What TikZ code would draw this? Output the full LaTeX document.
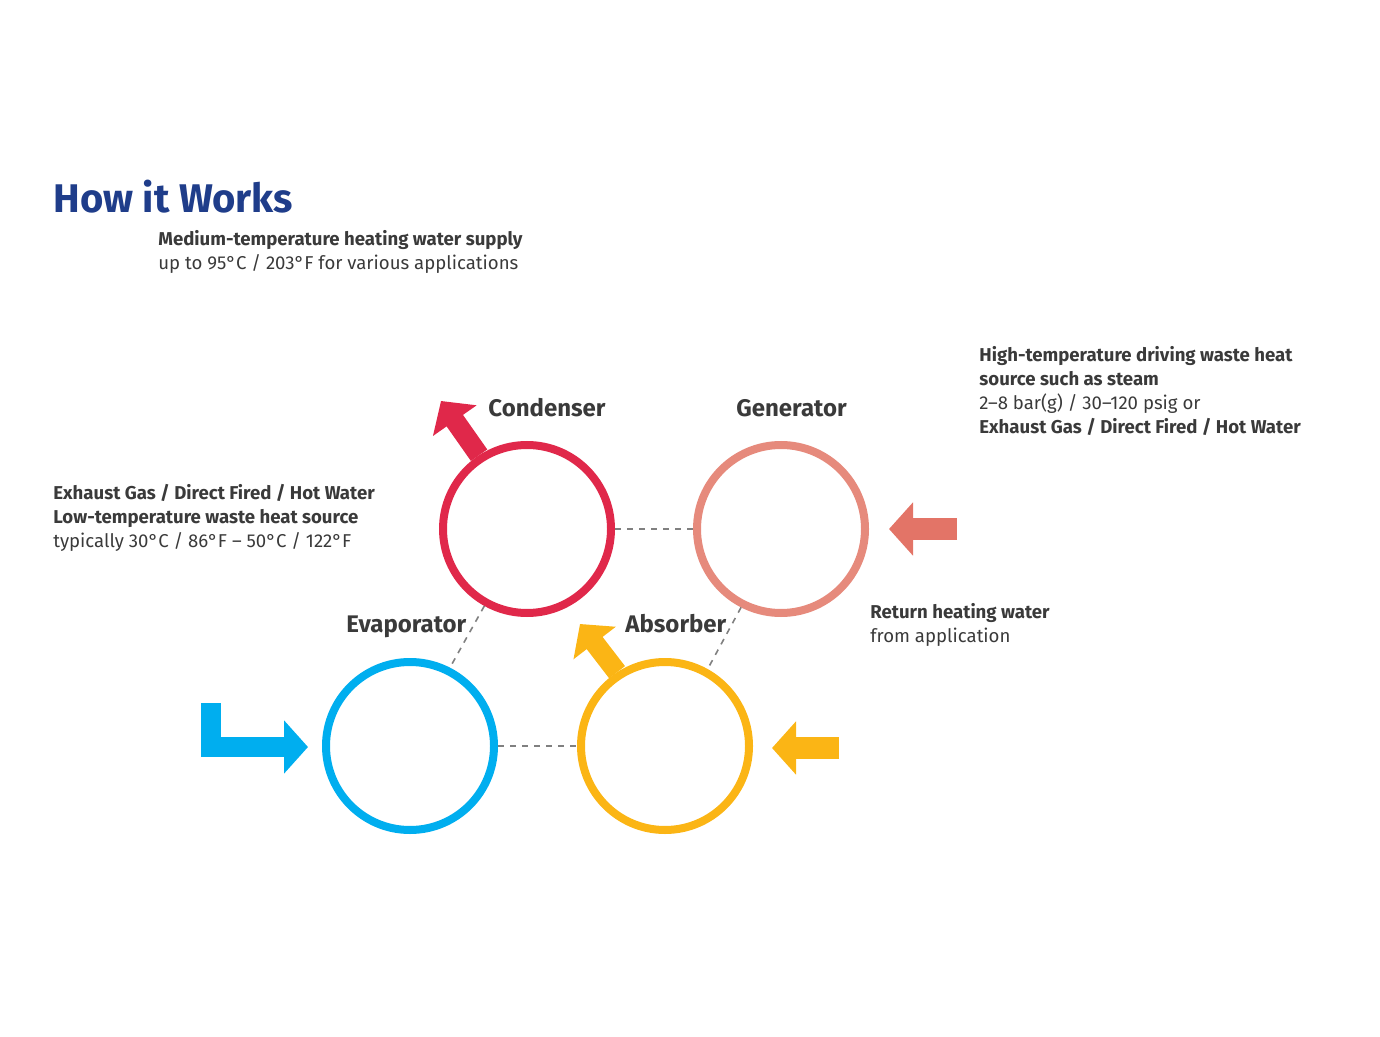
\documentclass[tikz,border=0pt]{standalone}
\usepackage{fontspec}
\setmainfont{Fira Sans}
\usetikzlibrary{positioning,calc,arrows.meta}
\definecolor{txtgray}{HTML}{3A3A3A}
\definecolor{titleblue}{HTML}{1F3D8A}
\definecolor{condred}{HTML}{E0284A}
\definecolor{genpink}{HTML}{E68A7C}
\definecolor{genarrow}{HTML}{E37467}
\definecolor{evapblue}{HTML}{00AEEF}
\definecolor{absyellow}{HTML}{FBB515}
\tikzset{
  unit/.style={shape=circle,draw,line width=4pt,minimum size=84pt,inner sep=0pt},
  unitlabel/.style={anchor=base west,font=\fontsize{12}{14}\selectfont\bfseries,text=txtgray,inner sep=0pt},
  note/.style={anchor=north west,align=left,font=\fontsize{9.3}{12}\selectfont,text=txtgray,inner sep=0pt},
  link/.style={draw=gray,dashed,line width=0.8pt},
  flow/.style={line width=10pt,-{Triangle[length=12pt,width=26pt]}}
}
\begin{document}
\begin{tikzpicture}[x=0.5pt,y=-0.5pt]
  \useasboundingbox (0,0) rectangle (1380,1037);
  \node[anchor=base west,inner sep=0pt,text=titleblue,font=\fontsize{20}{24}\selectfont\bfseries] (title) at (53,213) {How it Works};
  % the four circles
  \node (cond) [unit,draw=condred] at (527,529) {};
  \node (gen) [unit,draw=genpink] at (781,529) {};
  \node (evap) [unit,draw=evapblue] at (410,746) {};
  \node (abs) [unit,draw=absyellow] at (665,746) {};
  \node (condl) [unitlabel] at (488,416) {Condenser};
  \node (genl) [unitlabel] at (736,416) {Generator};
  \node (evapl) [unitlabel] at (346,632) {Evaporator};
  \node (absl) [unitlabel] at (625,632) {Absorber};
  % dashed links
  \draw[link] (cond.east) -- (gen.west);
  \draw[link] (evap.east) -- (abs.west);
  \draw[link] (cond.-119) -- (evap.63);
  \draw[link] (gen.-117) -- (abs.61);
  % flows
  \coordinate (condout) at (441,401);
  \coordinate (absout) at (580,624);
  \coordinate (evapin) at (308,747);
  \coordinate (evapcorner) at (211,747);
  \coordinate (evaptop) at (211,703);
  \coordinate (genin) at (889,529);
  \coordinate (genfrom) at (957,529);
  \coordinate (absin) at (772,748);
  \coordinate (absfrom) at (839,748);
  \draw[flow,condred] (cond.123) -- (condout);
  \draw[flow,absyellow] (abs.123) -- (absout);
  \draw[flow,evapblue,miter limit=10] (evaptop) -- (evapcorner) -- (evapin);
  \draw[flow,genarrow,line width=11pt] (genfrom) -- (genin);
  \draw[flow,absyellow,line width=11pt] (absfrom) -- (absin);
  % notes
  \node (supply) [note] at (158,230) {\textbf{Medium-temperature heating water supply}\\up to 95°C / 203°F for various applications};
  \node (lowheat) [note] at (53,484) {\textbf{Exhaust Gas / Direct Fired / Hot Water}\\\textbf{Low-temperature waste heat source}\\typically 30°C / 86°F – 50°C / 122°F};
  \node (highheat) [note] at (979,346) {\textbf{High-temperature driving waste heat}\\\textbf{source such as steam}\\2–8 bar(g) / 30–120 psig or\\\textbf{Exhaust Gas / Direct Fired / Hot Water}};
  \node (return) [note] at (870,603) {\textbf{Return heating water}\\from application};
\end{tikzpicture}
\end{document}
